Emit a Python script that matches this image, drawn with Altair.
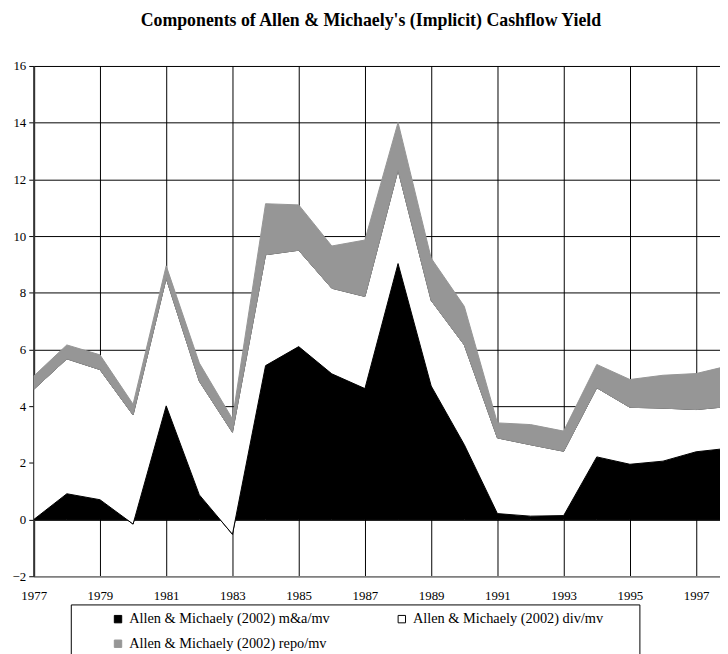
import altair as alt
import pandas as pd

years = list(range(1977, 1999))
ma = [0.00, 0.91, 0.70, -0.16, 4.01, 0.87, -0.52, 5.43, 6.10, 5.14, 4.62,
      9.03, 4.71, 2.64, 0.21, 0.12, 0.14, 2.21, 1.95, 2.06, 2.39, 2.52]
div = [4.59, 4.76, 4.59, 3.85, 4.50, 4.01, 3.60, 3.91, 3.40, 3.02, 3.25,
       3.30, 3.02, 3.52, 2.67, 2.52, 2.27, 2.44, 2.01, 1.87, 1.49, 1.47]
repo = [0.47, 0.49, 0.52, 0.38, 0.44, 0.64, 0.47, 1.80, 1.60, 1.49, 1.99,
        1.68, 1.49, 1.36, 0.53, 0.71, 0.71, 0.82, 0.98, 1.16, 1.27, 1.44]
names = ["Allen & Michaely (2002) m&a/mv",
         "Allen & Michaely (2002) div/mv",
         "Allen & Michaely (2002) repo/mv"]
fills = ["#000000", "#ffffff", "#969696"]
strokes = ["#000000", "#000000", "#969696"]
x_ticks = list(range(1977, 1998, 2))
y_ticks = list(range(-2, 17, 2))
title = "Components of Allen & Michaely's (Implicit) Cashflow Yield"

rows = []
for i, yr in enumerate(years):
    lo = 0.0
    for k, (name, arr) in enumerate(zip(names, [ma, div, repo])):
        hi = lo + arr[i]
        rows.append({"year": yr, "series": name, "lo": lo, "hi": hi, "k": k})
        lo = hi
df = pd.DataFrame(rows)

# legend is laid out column by column: order entries so that rows read
# m&a, div / repo
leg_order = [0, 2, 1]
leg_domain = [names[i] for i in leg_order]
fill_scale = alt.Scale(domain=leg_domain, range=[fills[i] for i in leg_order])
stroke_scale = alt.Scale(domain=leg_domain, range=[strokes[i] for i in leg_order])

FONT = "Liberation Serif"
xs = alt.Scale(domain=[1977, 1997.72], nice=False, zero=False)
ys = alt.Scale(domain=[-2, 16], nice=False, zero=False)

x_axis = alt.Axis(
    values=x_ticks, format="d", grid=True, gridColor="#000000", gridWidth=1,
    ticks=False, domainColor="#808080", domainWidth=1.5, labelPadding=14,
    labelFlush=False, labelOverlap=False, labelBound=False,
    labelFont=FONT, labelFontSize=13, labelColor="#000000", title=None)
y_axis = alt.Axis(values=y_ticks, grid=True, gridColor="#000000", gridWidth=1,
                  domainColor="#333333", domainWidth=2, tickColor="#000000",
                  tickSize=5, labelPadding=3, labelFont=FONT, labelFontSize=13,
                  labelColor="#000000", labelFlush=False, labelOverlap=False,
                  title=None)

legend = alt.Legend(orient="none", legendX=78, legendY=552, columns=2,
                    title=None, symbolType="square", symbolSize=56,
                    symbolStrokeWidth=1, symbolOpacity=1,
                    labelFont=FONT, labelFontSize=14.5, labelLimit=400,
                    labelColor="#000000", columnPadding=65, rowPadding=10,
                    labelOffset=4, padding=0)

layers = []
for k, name in enumerate(names):
    a = alt.Chart(df).transform_filter(alt.datum.k == k).mark_area(
        clip=True, opacity=1, strokeWidth=1, interpolate="linear").encode(
        x=alt.X("year:Q", scale=xs, axis=x_axis),
        y=alt.Y("hi:Q", scale=ys, axis=y_axis),
        y2="lo:Q",
        fill=alt.Fill("series:N", scale=fill_scale, legend=legend),
        stroke=alt.Stroke("series:N", scale=stroke_scale, legend=legend),
    )
    layers.append(a)

box = alt.Chart(pd.DataFrame({"a": [0]})).mark_rect(
    fill=None, stroke="#000000", strokeWidth=1).encode(
    x=alt.value(38), x2=alt.value(613), y=alt.value(545), y2=alt.value(620))
layers.append(box)

chart = alt.layer(*layers).properties(
    width=694, height=516,
    title=alt.TitleParams(title, font=FONT, fontSize=18, fontWeight="bold",
                          color="#000000", anchor="middle", dx=-6, offset=30),
    autosize=alt.AutoSizeParams(type="none"),
    padding={"left": 26, "top": 55, "right": 0, "bottom": 75},
).configure_view(stroke=None).configure(background="#ffffff")

chart.save("out.html", embed_options={"renderer": "svg", "actions": False})
